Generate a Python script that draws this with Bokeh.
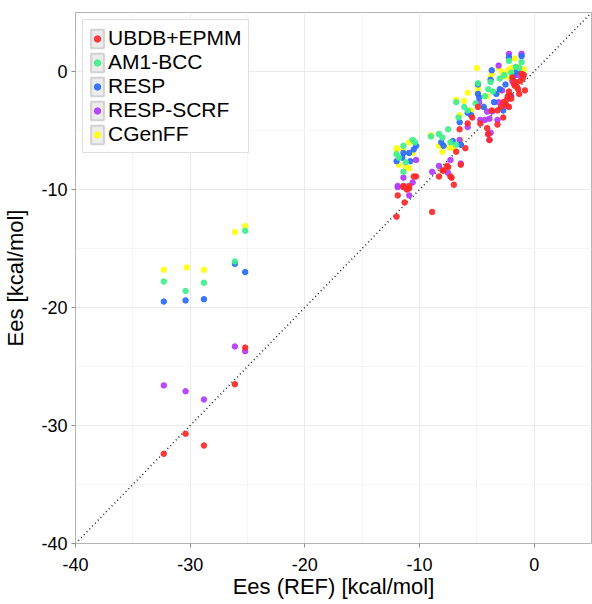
from bokeh.plotting import figure
from bokeh.models import (Legend, LegendItem, Range1d, SingleIntervalTicker,
                          ColumnDataSource, Slope, PrintfTickFormatter)
from bokeh.embed import file_html
from bokeh.resources import INLINE

# ---------------- data ----------------
series_names = ["UBDB+EPMM", "AM1-BCC", "RESP", "RESP-SCRF", "CGenFF"]
series_colors = ["#ff2a2a", "#40f08c", "#2b6bff", "#b23cff", "#ffff10"]

ubdb_x = [-32.3, -30.4, -28.8, -26.1, -25.2, -12.0, -8.9, -11.3, -11.1, -10.9,
          -11.4, -10.3, -10.5, -11.9, -10.9, -11.4, -8.3, -7.9, -7.5, -7.2,
          -7.0, -6.4, -7.6, -8.0, -7.3, -6.8, -6.0, -6.5, -5.8, -5.4,
          -4.9, -4.7, -4.1, -4.0, -3.9, -3.2, -3.7, -2.9, -2.7, -3.2,
          -2.7, -2.4, -2.2, -2.1, -1.6, -1.5, -1.1, -0.8, -2.2, -1.8,
          -1.4, -1.2, -2.0, -1.7, -1.0, -2.5, -0.9, -1.3, -2.3, -1.9]
ubdb_y = [-32.4, -30.7, -31.7, -26.5, -23.4, -12.3, -11.9, -11.1, -10.0, -9.9,
          -9.8, -8.9, -8.9, -10.5, -9.7, -9.7, -8.9, -8.4, -8.1, -9.0,
          -9.6, -7.9, -8.0, -8.4, -8.9, -6.8, -6.5, -4.9, -4.4, -3.9,
          -3.0, -4.4, -4.8, -5.3, -5.8, -4.5, -3.3, -3.0, -2.6, -3.3,
          -3.9, -2.4, -3.0, -2.0, -0.9, -1.3, -0.2, -1.6, -1.7, -1.0,
          -1.5, -0.8, -2.3, -1.2, -0.6, -2.8, -0.3, -1.9, -2.1, -0.5]

am1_x = [-32.3, -30.4, -28.8, -26.1, -25.2, -12.0, -11.4, -10.6, -11.2, -11.4,
         -10.4, -11.8, -8.3, -7.5, -8.0, -7.3, -9.0, -6.8, -6.8, -6.1,
         -5.8, -6.6, -4.9, -4.3, -3.8, -3.6, -3.0, -1.1, -2.2, -1.6,
         -2.6, -4.0, -5.1, -2.0, -1.3]
am1_y = [-17.8, -18.6, -17.9, -16.1, -13.5, -7.0, -6.3, -5.8, -7.7, -8.5,
         -6.0, -7.3, -5.3, -4.9, -5.6, -6.0, -5.5, -6.2, -2.6, -3.0,
         -3.3, -3.9, -1.0, -2.1, -0.9, -1.7, -0.6, 0.8, 0.9, 0.4,
         -0.3, -1.5, -2.7, -0.1, 0.3]

resp_x = [-32.3, -30.4, -28.8, -26.1, -25.2, -12.0, -10.3, -11.4, -10.9, -10.8,
          -11.5, -10.5, -7.9, -6.4, -7.1, -8.1, -5.8, -6.5, -5.5, -4.9,
          -4.9, -4.8, -4.4, -3.7, -3.8, -3.0, -3.5, -2.7, -2.2, -1.1,
          -2.5, -1.8, -1.5, -3.3, -2.0]
resp_y = [-19.5, -19.4, -19.3, -16.3, -17.0, -7.6, -6.3, -6.9, -6.9, -7.6,
          -7.3, -6.6, -6.3, -6.2, -5.9, -6.0, -3.5, -4.3, -3.7, -1.1,
          -1.9, -2.2, -3.0, 0.1, -0.7, -1.5, -2.6, -3.3, 1.2, 1.3,
          -1.1, -0.4, 0.0, -1.9, -2.1]

scrf_x = [-32.3, -30.4, -28.8, -26.1, -25.2, -10.3, -11.4, -11.9, -10.6, -10.9,
          -11.9, -6.5, -7.3, -6.4, -8.3, -8.9, -7.5, -5.8, -4.8, -4.7,
          -4.3, -3.9, -4.0, -3.2, -3.8, -3.1, -3.7, -3.9, -4.1, -2.2,
          -1.1, -3.1, -2.4, -1.9, -2.8, -1.4]
scrf_y = [-26.6, -27.1, -27.8, -23.3, -23.7, -7.5, -9.0, -9.7, -9.4, -10.5,
          -9.8, -5.8, -7.5, -7.8, -8.0, -8.5, -8.6, -4.7, -2.6, -4.1,
          -4.1, -5.8, -5.3, -4.1, -5.2, -2.6, -3.4, -4.0, -3.4, 1.5,
          1.5, 0.5, -2.9, -0.8, -1.6, -0.3]

cgenff_x = [-32.3, -30.3, -28.8, -26.1, -25.2, -12.0, -10.9, -11.4, -10.6, -11.8,
            -11.2, -10.9, -12.0, -9.0, -8.3, -7.4, -7.1, -6.4, -8.0, -6.8,
            -6.1, -5.8, -6.5, -5.5, -5.0, -4.9, -4.9, -4.1, -3.1, -2.8,
            -1.7, -1.1, -2.3, -2.0, -1.6, -1.3, -0.9, -1.9, -2.6, -1.4,
            -3.7, -3.0, -3.8, -4.4, -2.1, -1.0]
cgenff_y = [-16.8, -16.6, -16.8, -13.6, -13.1, -6.5, -6.0, -6.7, -6.9, -7.9,
            -8.1, -8.2, -6.6, -5.4, -6.3, -6.4, -6.5, -5.8, -6.8, -2.4,
            -2.5, -1.8, -3.7, -3.3, 0.3, -1.3, -1.7, -2.1, 0.3, -0.1,
            1.1, 1.4, 0.1, 0.3, -0.1, 0.0, 0.2, -0.3, -0.4, 0.4,
            -0.2, -1.7, -0.5, -3.0, -0.6, -0.2]

series_x = [ubdb_x, am1_x, resp_x, scrf_x, cgenff_x]
series_y = [ubdb_y, am1_y, resp_y, scrf_y, cgenff_y]

axis_range = [-40, 5]
x_label = "Ees (REF) [kcal/mol]"
y_label = "Ees [kcal/mol]"

FONT = "Liberation Sans"

# ---------------- figure ----------------
p = figure(width=592, height=604,
           x_range=Range1d(*axis_range), y_range=Range1d(*axis_range),
           output_backend="svg", toolbar_location=None,
           min_border_left=74, min_border_right=1,
           min_border_top=12, min_border_bottom=61)

p.background_fill_color = "white"
p.border_fill_color = "white"
p.outline_line_color = "#b4b4b4"

for ax in (p.xaxis[0], p.yaxis[0]):
    ax.ticker = SingleIntervalTicker(interval=10, num_minor_ticks=2)
    ax.formatter = PrintfTickFormatter(format="%d")
    ax.axis_line_color = "#b4b4b4"
    ax.major_tick_line_color = "#8c8c8c"
    ax.major_tick_in = 0
    ax.major_tick_out = 4
    ax.minor_tick_line_color = None
    ax.major_label_text_font = FONT
    ax.major_label_text_font_size = "18px"
    ax.major_label_text_color = "black"
    ax.axis_label_text_font = FONT
    ax.axis_label_text_font_size = "22px"
    ax.axis_label_text_font_style = "normal"
    ax.axis_label_text_color = "black"

p.xaxis.axis_label = x_label
p.yaxis.axis_label = y_label
p.xaxis.major_label_standoff = 10
p.yaxis.major_label_standoff = 4
p.xaxis.axis_label_standoff = 0
p.yaxis.axis_label_standoff = 10

for g in (p.xgrid[0], p.ygrid[0]):
    g.grid_line_color = "#ebebeb"
    g.minor_grid_line_color = "#f5f5f5"

diag = Slope(gradient=1, y_intercept=0, line_color="#222222",
             line_width=1.5, line_dash="1 3", level="underlay")
p.add_layout(diag)

legend_items = []
draw_order = [4, 3, 2, 1, 0]
renderers = {}
boxes = {}
for i in draw_order:
    src = ColumnDataSource(dict(x=series_x[i], y=series_y[i]))
    # legend-only box (zero size, hidden under the series' first point)
    bsrc = ColumnDataSource(dict(x=series_x[i][:1], y=series_y[i][:1]))
    boxes[i] = p.rect(x="x", y="y", width=0, height=0, source=bsrc,
                      fill_color="#ececec", line_color="#d2d2d2", line_width=2)
    renderers[i] = p.scatter(x="x", y="y", source=src, size=5.5,
                             fill_color=series_colors[i], line_color=series_colors[i],
                             line_width=1, fill_alpha=0.92, line_alpha=0.92)

for i, name in enumerate(series_names):
    legend_items.append(LegendItem(label=name, renderers=[boxes[i], renderers[i]]))

legend = Legend(items=legend_items, location="top_left",
                margin=7, padding=6, spacing=0,
                glyph_width=16, glyph_height=23, label_height=23,
                label_standoff=3,
                label_text_font=FONT, label_text_font_size="21px",
                label_text_color="black",
                border_line_color="#c0c0c0", border_line_width=1,
                background_fill_color="white", background_fill_alpha=1)
p.add_layout(legend)

open("out.html", "w").write(file_html(p, INLINE))
